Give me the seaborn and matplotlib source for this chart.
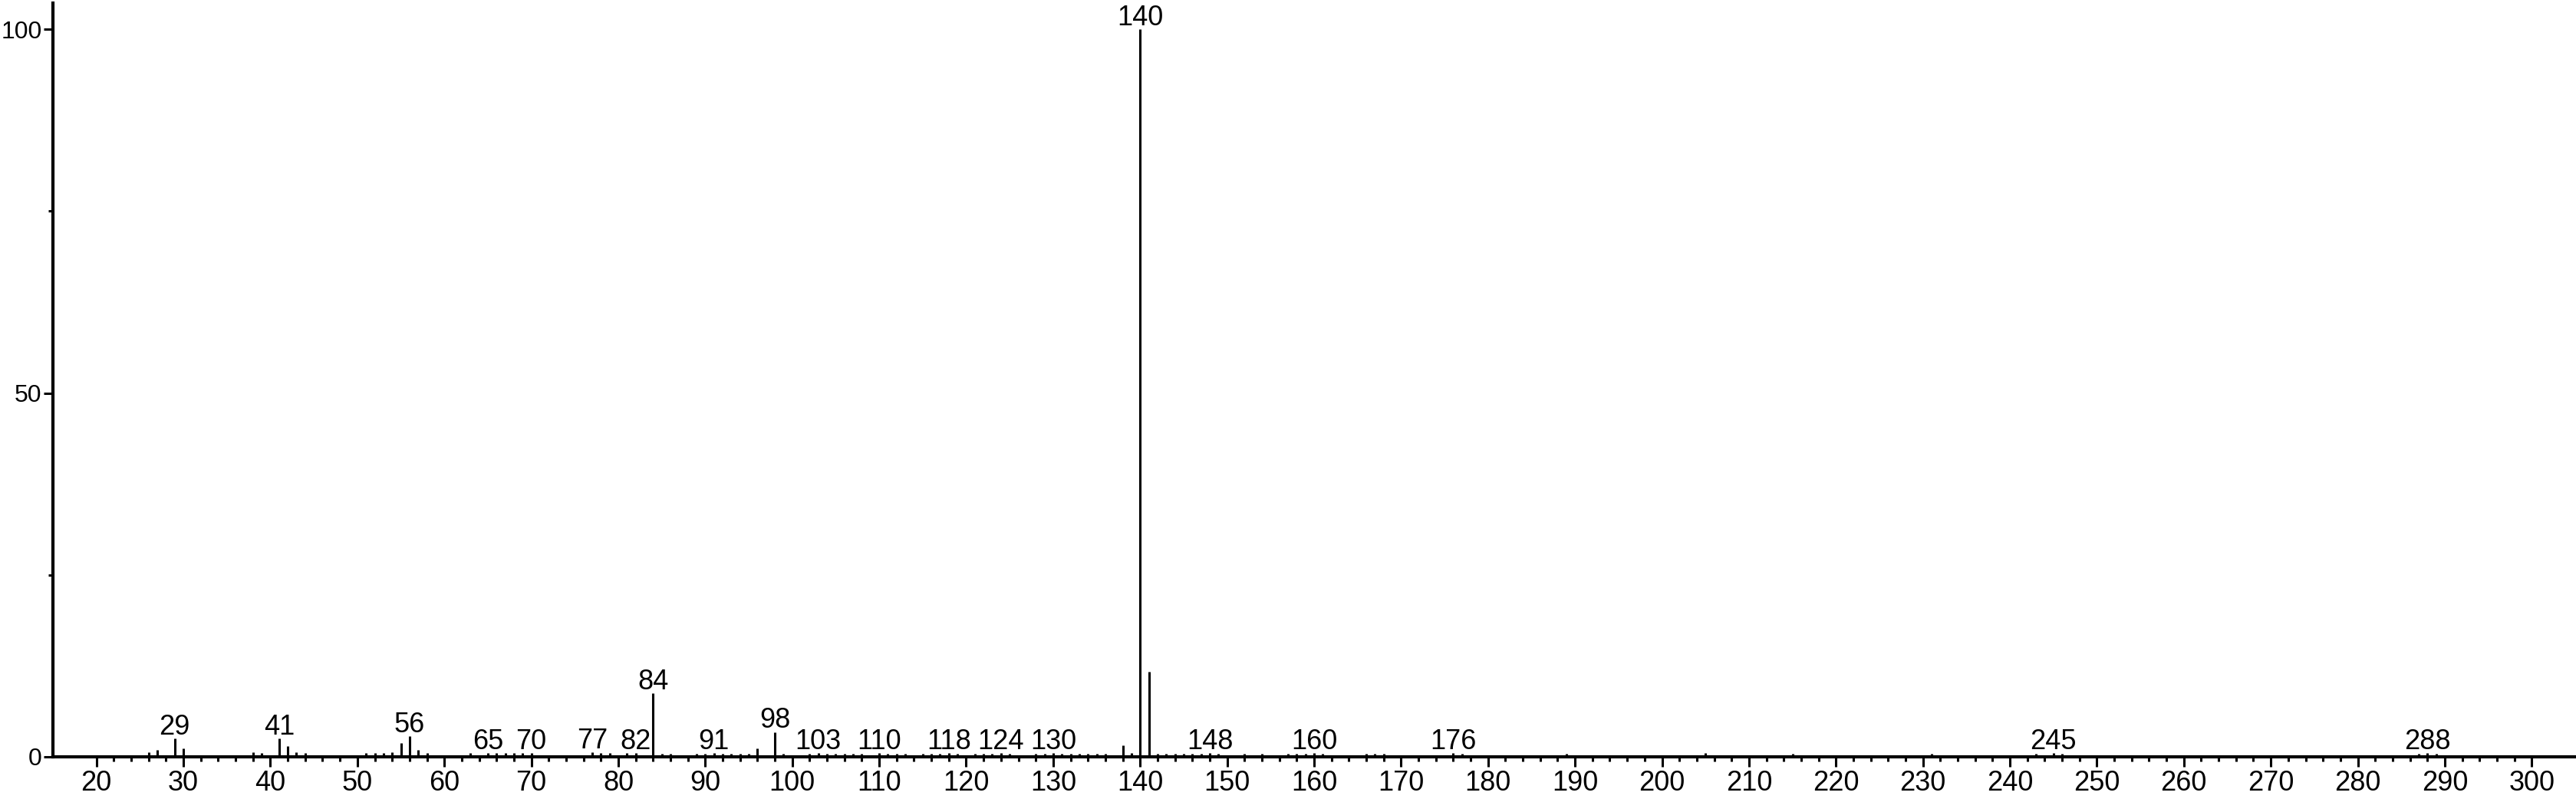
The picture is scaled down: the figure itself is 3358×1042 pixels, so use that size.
import matplotlib.pyplot as plt
import seaborn as sns

# stick spectrum: m/z and relative intensity (%)
mz = [26, 27, 29, 30, 38, 39, 41, 42, 43, 44,
      51, 52, 53, 54, 55, 56, 57, 58, 63, 65, 66, 67, 68, 69, 70,
      77, 78, 79, 81, 82, 84, 85, 86, 89, 90, 91, 92, 93, 94, 95, 96, 98, 99,
      102, 103, 104, 105, 106, 107, 108, 110, 111, 112, 113,
      115, 116, 117, 118, 119, 121, 122, 123, 124, 125,
      128, 129, 130, 131, 132, 133, 134, 135, 136, 138, 139, 140, 141,
      142, 143, 144, 145, 146, 147, 148, 149, 152, 154, 157, 158, 159, 160, 161,
      166, 167, 168, 176, 177, 189, 205, 215, 231, 243, 245, 246, 287, 288, 289]
intensity = [0.6, 0.95, 2.5, 1.2, 0.6, 0.5, 2.5, 1.5, 0.6, 0.5,
             0.5, 0.5, 0.5, 0.6, 1.9, 2.8, 0.9, 0.5, 0.5, 0.5, 0.5, 0.5, 0.5, 0.5, 0.5,
             0.6, 0.5, 0.5, 0.5, 0.5, 8.7, 0.4, 0.4, 0.4, 0.4, 0.5, 0.4, 0.4, 0.4, 0.4, 1.2, 3.4, 0.4,
             0.4, 0.5, 0.4, 0.4, 0.4, 0.4, 0.4, 0.5, 0.4, 0.4, 0.4,
             0.4, 0.4, 0.4, 0.5, 0.4, 0.4, 0.4, 0.4, 0.5, 0.4,
             0.4, 0.4, 0.5, 0.4, 0.4, 0.4, 0.4, 0.4, 0.4, 1.6, 0.5, 100, 11.7,
             0.4, 0.4, 0.4, 0.4, 0.4, 0.4, 0.5, 0.4, 0.4, 0.4, 0.4, 0.4, 0.4, 0.5, 0.4,
             0.4, 0.4, 0.4, 0.5, 0.4, 0.4, 0.5, 0.4, 0.4, 0.4, 0.5, 0.4, 0.4, 0.5, 0.4]
labeled = [29, 41, 56, 65, 70, 77, 82, 84, 91, 98, 103, 110, 118, 124, 130,
           140, 148, 160, 176, 245, 288]

sns.set_style('white')
plt.rcParams['font.family'] = ['Liberation Sans', 'DejaVu Sans']

fig, ax = plt.subplots(figsize=(33.58, 10.42), dpi=100)
fig.subplots_adjust(left=69 / 3358, right=3357 / 3358, bottom=55 / 1042, top=1 - 4 / 1042)

ax.vlines(mz, 0, intensity, color='black', lw=2.2)
peaks = dict(zip(mz, intensity))
for m in labeled:
    ax.annotate(str(m), (m, peaks[m]), xytext=(0, 4), textcoords='offset points',
                ha='center', va='baseline', fontsize=26, color='black')

ax.set_xlim(15, 305)
ax.set_ylim(0, 103.6)
ax.set_xticks(range(20, 301, 10))
ax.set_xticks(range(22, 300, 2), minor=True)
ax.set_yticks([0, 50, 100])
ax.set_yticks([25, 75], minor=True)
ax.tick_params(axis='both', which='major', direction='out', length=9.5, width=2.2,
               color='black', labelsize=26, labelcolor='black')
ax.tick_params(axis='both', which='minor', direction='out', length=4.5, width=2.2,
               color='black')
ax.tick_params(axis='x', which='major', pad=3)
ax.tick_params(axis='y', which='major', pad=2, length=8.5, labelsize=23)
ax.tick_params(bottom=True, left=True)
ax.tick_params(axis='x', which='minor', bottom=True)
ax.tick_params(axis='y', which='minor', left=True)

sns.despine(ax=ax)
for side in ['left', 'bottom']:
    ax.spines[side].set_color('black')
    ax.spines[side].set_linewidth(3)
ax.grid(False)

fig.savefig('out.png', dpi=100)
